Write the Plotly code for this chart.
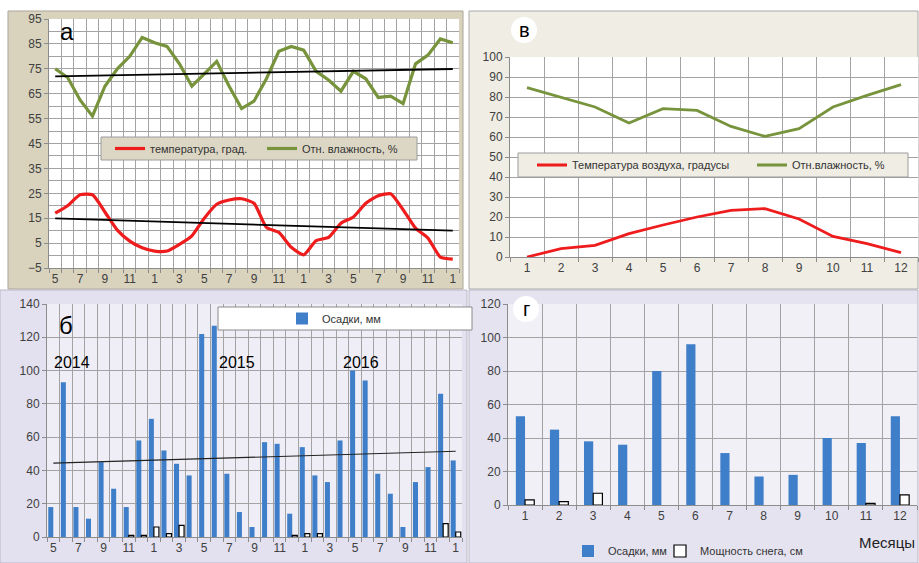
import numpy as np
import plotly.graph_objects as go

W, H = 919, 563

# ---- panel а: monthly means, May 2014 – Jan 2017 ----
months_a = [5, 6, 7, 8, 9, 10, 11, 12,
            1, 2, 3, 4, 5, 6, 7, 8, 9, 10, 11, 12,
            1, 2, 3, 4, 5, 6, 7, 8, 9, 10, 11, 12,
            1]
temp_a = [17, 20, 24.4, 24.4, 17.5, 10.2, 5.8, 3.1,
          1.8, 1.8, 4.5, 7.9, 15, 20.6, 22.3, 22.8, 21, 11.3, 9.3, 3.3,
          0.3, 6, 7.3, 13, 15.5, 21, 24, 24.8, 18.4, 11, 7, -0.6,
          -1.4]
hum_a = [75, 71.5, 62.5, 56, 68, 75, 80, 87.6,
         85.5, 84, 77, 68, 73, 78, 68, 59, 62, 71, 82, 84,
         82.5, 74, 70.5, 66, 74, 71, 63.5, 64, 61, 77, 80.5, 87,
         85.5]

# ---- panel б: monthly precipitation and snow depth, same period ----
precip_b = [18, 93, 18, 11, 45, 29, 18, 58,
            71, 52, 44, 37, 122, 127, 38, 15, 6, 57, 56, 14,
            54, 37, 33, 58, 100, 94, 38, 26, 6, 33, 42, 86,
            46]
snow_b = [0, 0, 0, 0, 0, 0, 1, 1,
          6, 2, 7, 0, 0, 0, 0, 0, 0, 0, 0, 1,
          2, 2, 0, 0, 0, 0, 0, 0, 0, 0, 0, 8,
          3]
years_b = ["2014", "2015", "2016"]

# ---- panel в: long-term monthly climate ----
months_v = list(range(1, 13))
temp_v = [0, 4.2, 5.8, 11.7, 16, 20, 23.3, 24.2, 19, 10.3, 6.7, 2.2]
hum_v = [84.7, 79.7, 75, 67, 74.2, 73.3, 65.3, 60.3, 64.2, 75, 80.8, 86.2]

# ---- panel г: long-term monthly precipitation and snow depth ----
precip_g = [53, 45, 38, 36, 80, 96, 31, 17, 18, 40, 37, 53]
snow_g = [3, 2, 7, 0, 0, 0, 0, 0, 0, 0, 1, 6]

RED = "#ee1c1c"
GREEN = "#77933c"
BLUE = "#3f7fc9"
GRID = "#a3a3a3"
TICKFONT = dict(family="Liberation Sans", size=12, color="#404040")
LEGFONT = dict(family="Liberation Sans", size=11, color="#333333")


def px(x):
    return x / W


def py(y):
    return 1 - y / H


def trend(vals):
    x = np.arange(len(vals))
    k, b = np.polyfit(x, np.asarray(vals, dtype=float), 1)
    return [b, k * (len(vals) - 1) + b]


def positive(vals):
    return [v if v > 0 else None for v in vals]


def leg(x, y):
    # one legend entry per box, anchored at its left edge (pixels)
    return dict(x=px(x), y=py(y), xanchor="left", yanchor="middle", orientation="h",
                bgcolor="rgba(0,0,0,0)", borderwidth=0, font=LEGFONT, itemwidth=30)


n = len(months_a)
idx = list(range(n))
fig = go.Figure()

# panel а
fig.add_trace(go.Scatter(x=idx, y=temp_a, mode="lines", name="температура, град.",
                         line=dict(color=RED, width=3.2, shape="spline", smoothing=0.55),
                         xaxis="x", yaxis="y", legend="legend"))
fig.add_trace(go.Scatter(x=idx, y=hum_a, mode="lines", name="Отн. влажность, %",
                         line=dict(color=GREEN, width=3.2),
                         xaxis="x", yaxis="y", legend="legend2"))
for series in (hum_a, temp_a):
    fig.add_trace(go.Scatter(x=[0, n - 1], y=trend(series), mode="lines",
                             line=dict(color="black", width=1.8),
                             showlegend=False, hoverinfo="skip", xaxis="x", yaxis="y"))

# panel в
fig.add_trace(go.Scatter(x=months_v, y=temp_v, mode="lines", name="Температура воздуха, градусы",
                         line=dict(color=RED, width=2.8),
                         xaxis="x2", yaxis="y2", legend="legend3"))
fig.add_trace(go.Scatter(x=months_v, y=hum_v, mode="lines", name="Отн.влажность, %",
                         line=dict(color=GREEN, width=2.8),
                         xaxis="x2", yaxis="y2", legend="legend4"))

# panel б
fig.add_trace(go.Bar(x=idx, y=precip_b, name="Осадки, мм", marker=dict(color=BLUE, line=dict(width=0)),
                     width=0.4, offset=-0.4, xaxis="x3", yaxis="y3", legend="legend5"))
fig.add_trace(go.Bar(x=idx, y=positive(snow_b), name="Мощность снега, см", showlegend=False,
                     marker=dict(color="white", line=dict(color="black", width=1.2)),
                     width=0.4, offset=0, xaxis="x3", yaxis="y3"))
fig.add_trace(go.Scatter(x=[0, n - 1], y=trend(precip_b), mode="lines",
                         line=dict(color="#222222", width=1.1),
                         showlegend=False, hoverinfo="skip", xaxis="x3", yaxis="y3"))

# panel г
fig.add_trace(go.Bar(x=months_v, y=precip_g, name="Осадки, мм", marker=dict(color=BLUE, line=dict(width=0)),
                     width=0.27, offset=-0.27, xaxis="x4", yaxis="y4", legend="legend6"))
fig.add_trace(go.Bar(x=months_v, y=positive(snow_g), name="Мощность снега, см",
                     marker=dict(color="white", line=dict(color="black", width=1.2)),
                     width=0.27, offset=0, xaxis="x4", yaxis="y4", legend="legend7"))


def xax(x0, x1, anchor, rng, tickvals, ticktext, bounds):
    return dict(domain=[px(x0), px(x1)], anchor=anchor, range=rng,
                tickmode="array", tickvals=tickvals, ticktext=ticktext,
                showgrid=False, zeroline=False, showline=True, linecolor="#8c8c8c",
                ticks="", tickfont=TICKFONT,
                minor=dict(tickmode="array", tickvals=bounds, showgrid=True,
                           gridcolor=GRID, gridwidth=1, ticks="outside", ticklen=4,
                           tickcolor="#8c8c8c"))


def yax(y0, y1, anchor, rng, dtick, tick0, minor_dtick=None):
    d = dict(domain=[py(y1), py(y0)], anchor=anchor, range=rng,
             tickmode="linear", tick0=tick0, dtick=dtick,
             showgrid=True, gridcolor=GRID, gridwidth=1, zeroline=False,
             showline=True, linecolor="#8c8c8c", ticks="outside", ticklen=4,
             tickcolor="#8c8c8c", tickfont=TICKFONT)
    if minor_dtick:
        d["minor"] = dict(tick0=tick0, dtick=minor_dtick, showgrid=True,
                          gridcolor=GRID, gridwidth=1)
    return d


half_a = [i - 0.5 for i in range(n + 1)]
lab_idx = list(range(0, n, 2))
lab_txt = [str(months_a[i]) for i in lab_idx]
half_v = [m - 0.5 for m in range(1, 14)]

shapes = [
    # panel frames
    dict(type="rect", xref="paper", yref="paper", x0=px(8), x1=px(463), y0=py(289), y1=py(11),
         fillcolor="#d9d3be", line=dict(color="#a9a59a", width=1), layer="below"),
    dict(type="rect", xref="paper", yref="paper", x0=px(469), x1=px(918), y0=py(289), y1=py(11),
         fillcolor="#efede4", line=dict(color="#a9a9a9", width=1), layer="below"),
    dict(type="rect", xref="paper", yref="paper", x0=px(0), x1=px(467), y0=py(563), y1=py(290),
         fillcolor="#e3e0ef", line=dict(color="#b9b6c8", width=1), layer="below"),
    dict(type="rect", xref="paper", yref="paper", x0=px(469), x1=px(918), y0=py(563), y1=py(290),
         fillcolor="#e5e3f0", line=dict(color="#b9b6c8", width=1), layer="below"),
    # plot areas
    dict(type="rect", xref="paper", yref="paper", x0=px(49), x1=px(459), y0=py(268), y1=py(19),
         fillcolor="white", line=dict(width=0), layer="below"),
    dict(type="rect", xref="paper", yref="paper", x0=px(510), x1=px(918), y0=py(257), y1=py(57),
         fillcolor="white", line=dict(width=0), layer="below"),
    dict(type="rect", xref="paper", yref="paper", x0=px(47), x1=px(462), y0=py(537), y1=py(304),
         fillcolor="#efeef6", line=dict(width=0), layer="below"),
    dict(type="rect", xref="paper", yref="paper", x0=px(508), x1=px(917), y0=py(505), y1=py(304),
         fillcolor="#f1f0f7", line=dict(width=0), layer="below"),
    # legend boxes
    dict(type="rect", xref="paper", yref="paper", x0=px(101), x1=px(417), y0=py(160), y1=py(137),
         fillcolor="#dcd7c5", line=dict(color="#9c9c9c", width=1), layer="above"),
    dict(type="rect", xref="paper", yref="paper", x0=px(518), x1=px(908), y0=py(177), y1=py(153),
         fillcolor="#efede4", line=dict(color="#9c9c9c", width=1), layer="above"),
    dict(type="rect", xref="paper", yref="paper", x0=px(218), x1=px(472), y0=py(330), y1=py(307),
         fillcolor="white", line=dict(color="#8a8a8a", width=1), layer="above"),
    # white discs behind the panel letters
    dict(type="circle", xref="paper", yref="paper", x0=px(511), x1=px(537), y0=py(43), y1=py(17),
         fillcolor="white", line=dict(width=0), layer="above"),
    dict(type="circle", xref="paper", yref="paper", x0=px(513), x1=px(539), y0=py(322), y1=py(296),
         fillcolor="white", line=dict(width=0), layer="above"),
]


def label(text, x, y, size, **kw):
    return dict(text=text, x=px(x), y=py(y), xref="paper", yref="paper", showarrow=False,
                xanchor=kw.get("xanchor", "center"), yanchor="middle",
                font=dict(family="Liberation Sans", size=size, color=kw.get("color", "black")))


annotations = [
    label("а", 67, 31, 24),
    label("в", 524, 30, 20),
    label("б", 66, 325, 24),
    label("г", 526, 309, 20),
    label("Месяцы", 917, 542, 15, xanchor="right", color="#222222"),
]
for text, xpos in zip(years_b, [1.5, 14.6, 24.5]):
    annotations.append(dict(text=text, x=xpos, y=105, xref="x3", yref="y3", showarrow=False,
                            xanchor="center", yanchor="middle",
                            font=dict(family="Liberation Sans", size=16, color="black")))

fig.update_layout(
    width=W, height=H, margin=dict(l=0, r=0, t=0, b=0, autoexpand=False),
    paper_bgcolor="white", plot_bgcolor="rgba(0,0,0,0)",
    barmode="overlay",
    xaxis=xax(49, 459, "y", [-0.5, n - 0.5], lab_idx, lab_txt, half_a),
    yaxis=yax(19, 268, "x", [-5, 95], 10, -5, 5),
    xaxis2=xax(510, 918, "y2", [0.5, 12.5], months_v, [str(m) for m in months_v], half_v),
    yaxis2=yax(57, 257, "x2", [0, 100], 10, 0),
    xaxis3=xax(47, 462, "y3", [-0.5, n - 0.5], lab_idx, lab_txt, half_a),
    yaxis3=yax(304, 537, "x3", [0, 140], 20, 0),
    xaxis4=xax(508, 917, "y4", [0.5, 12.5], months_v, [str(m) for m in months_v], half_v),
    yaxis4=yax(304, 505, "x4", [0, 120], 20, 0),
    legend=leg(110, 148.5),
    legend2=leg(262, 148.5),
    legend3=leg(532, 165),
    legend4=leg(752, 165),
    legend5=leg(282, 318.5),
    legend6=leg(568, 551),
    legend7=leg(660, 551),
    shapes=shapes, annotations=annotations,
    showlegend=True,
)

fig.write_html("out.html")
